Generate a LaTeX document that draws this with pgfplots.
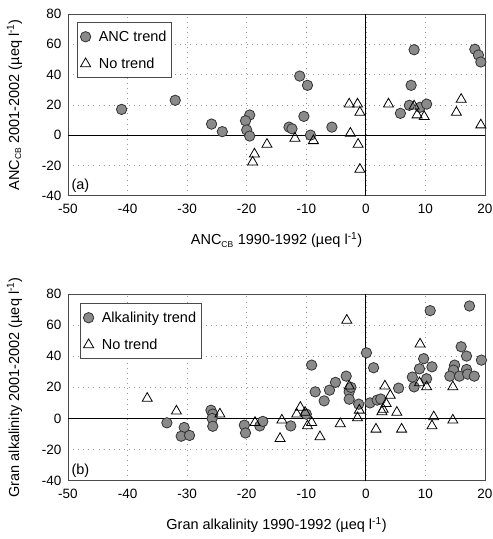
\documentclass[border=0pt]{standalone}
\usepackage{pgfplots}
\pgfplotsset{compat=1.18}
\usepackage{fontspec}
\setmainfont{Liberation Sans}
\definecolor{markgray}{HTML}{8A8A8A}
\definecolor{framegray}{HTML}{4A4A4A}
\pgfplotsset{
  myaxis/.style={
    scale only axis, width=417pt,
    xmin=-50, xmax=20, ymin=-40, ymax=80,
    xtick={-50,-40,...,20}, ytick={-40,-20,...,80},
    major tick length=0pt,
    grid=major,
    major grid style={gray!80, line width=0.6pt, dash pattern=on 0.6pt off 4.5pt},
    axis line style={framegray, line width=0.8pt},
    tick label style={font=\fontsize{13.5}{15}\selectfont},
    label style={font=\fontsize{14.5}{16}\selectfont},
    /pgf/number format/assume math mode=true,
    xticklabel style={yshift=-5pt},
    yticklabel style={xshift=-3pt},
    legend cell align=left,
    legend style={font=\fontsize{14.5}{16}\selectfont, draw=framegray, line width=0.8pt,
      inner xsep=3pt, inner ysep=6pt, row sep=11pt, column sep=6pt},
    legend image post style={line width=0.8pt},
  },
  circ/.style={only marks, mark=*, mark size=5.2pt, mark options={fill=markgray, draw=black!80, line width=0.8pt}},
  tri/.style={only marks, mark=triangle, mark size=5.8pt, mark options={fill=white, draw=black, line width=0.8pt}},
}
\begin{document}
\begin{tikzpicture}[x=1pt,y=1pt]
\useasboundingbox (0,0) rectangle (493,539);
\begin{axis}[myaxis, height=181.7pt, at={(68pt,343.3pt)}, anchor=south west,
  xlabel={ANC\textsubscript{\fontsize{8.5}{9}\selectfont CB} 1990-1992 (µeq l\textsuperscript{-1})},
  ylabel={ANC\textsubscript{\fontsize{8.5}{9}\selectfont CB} 2001-2002 (µeq l\textsuperscript{-1})},
  xlabel style={yshift=-12pt}, ylabel style={yshift=13pt},
  legend style={at={(0.0216,0.954)}, anchor=north west},
  clip=false]
\draw[black, line width=0.8pt] (axis cs:0,-40) -- (axis cs:0,80);
\draw[black, line width=0.8pt] (axis cs:-50,0) -- (axis cs:20,0);
\addplot[circ] coordinates {
(-41,17) (-32,23) (-25.9,7.3) (-24.1,2.3) (-19.5,13.3) (-20.2,9.5) (-20.0,3.4) (-19.5,-0.6)
(-11.1,39.0) (-9.8,32.9) (-10.4,12.4) (-12.9,5.3) (-12.4,4.2) (-9.3,0) (-5.7,5.3)
(8.1,56.4) (7.6,32.9) (5.8,14.4) (7.3,19.7) (9.1,18.4) (10.2,20.5)
(18.3,56.7) (18.9,52.9) (19.3,48.3)
};
\addlegendentry{ANC trend\hspace{17pt}}
\addplot[tri] coordinates {
(-16.6,-6.1) (-18.7,-12.5) (-19.0,-17.8) (-11.9,-2.1) (-8.8,-3.7) (-2.8,20.5) (-1.4,20.5)
(-1.0,15.0) (-2.6,1.2) (-1.3,-6.1) (-1.0,-22.6) (3.8,20.5) (8.1,19.2) (8.6,13.3) (9.8,12.2)
(16.0,23.6) (15.2,15.0) (19.3,6.7)
};
\addlegendentry{No trend}
\node[anchor=south west, font=\fontsize{14.5}{16}\selectfont] at (rel axis cs:0,0) {(a)};
\end{axis}
\begin{axis}[myaxis, height=186.7pt, at={(68pt,58.3pt)}, anchor=south west,
  xlabel={Gran alkalinity 1990-1992 (µeq l\textsuperscript{-1})},
  ylabel={Gran alkalinity 2001-2002 (µeq l\textsuperscript{-1})},
  xlabel style={yshift=-12pt}, ylabel style={yshift=13pt},
  legend style={at={(0.0288,0.950)}, anchor=north west},
  clip=false]
\draw[black, line width=0.8pt] (axis cs:0,-40) -- (axis cs:0,80);
\draw[black, line width=0.8pt] (axis cs:-50,0) -- (axis cs:20,0);
\addplot[circ] coordinates {
(-33.4,-2.8) (-30.5,-5.8) (-31.0,-11.4) (-29.6,-10.9) (-26.0,5.3) (-25.7,2.8) (-25.8,0) (-25.7,-5.0)
(-20.4,-4.3) (-20.2,-9.3) (-17.8,-4.8) (-17.3,-1.9) (-12.6,-4.8) (-10.0,2.8) (-9.1,34.3) (-8.5,17.1)
(-7.0,11.3) (-6.1,18.2) (-5.1,23.2) (-3.3,27.2) (-2.8,17.1) (-2.8,12.4) (-2.5,20.0) (-1.2,9.2)
(0.1,42.2) (1.3,32.6) (0.7,10.0) (1.9,11.8) (2.5,12.5) (5.5,19.5) (10.8,69.3) (9.7,38.4)
(11.1,33.2) (9.0,31.9) (7.8,26.6) (8.1,20.3) (10.2,25.5) (17.4,72.3) (16.0,46.1) (16.9,40.1)
(19.4,37.5) (14.9,34.3) (14.7,31.1) (16.9,31.5) (14.1,27.2) (15.7,27.2) (17.1,28.5) (18.2,27.2)
};
\addlegendentry{Alkalinity trend\hspace{9pt}}
\addplot[tri] coordinates {
(-36.7,12.9) (-31.8,4.7) (-24.5,2.8) (-18.6,-2.6) (-14.1,-1.1) (-14.4,-12.9) (-11.0,7.1) (-11.6,2.8)
(-10.2,3.9) (-9.8,-4.8) (-9.1,-2.6) (-7.7,-11.8) (-4.3,-3.4) (-3.2,63.1) (-2.8,20.8) (-1.4,0.4)
(-1.1,5.3) (1.7,-6.9) (3.2,20.8) (4.1,14.8) (3.4,9.6) (2.9,5.8) (2.7,4.3) (5.2,3.9) (6.0,-6.9)
(9.1,47.8) (9.0,22.9) (10.2,20.3) (11.4,1.0) (11.1,-4.8) (14.6,20.3) (14.6,-1.1)
};
\addlegendentry{No trend}
\node[anchor=south west, font=\fontsize{14.5}{16}\selectfont] at (rel axis cs:0,0) {(b)};
\end{axis}
\end{tikzpicture}
\end{document}
